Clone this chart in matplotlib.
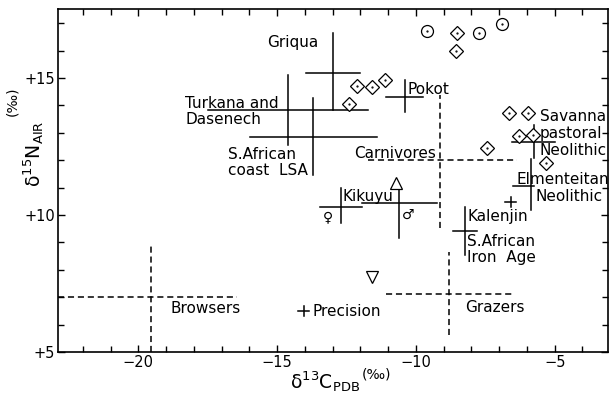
import matplotlib
matplotlib.use("Agg")
import matplotlib.pyplot as plt
from matplotlib.ticker import MultipleLocator, FixedLocator, FixedFormatter

# human groups: centre and range of d13C / d15N
human = ['Griqua', 'Turkana and Dasenech', 'S.African coast LSA', 'Pokot',
         'Kikuyu female', 'Kikuyu male', 'Savanna pastoral Neolithic',
         'Elmenteitan Neolithic', 'S.African Iron Age', 'Kalenjin', 'Precision']
human_c = [-13.0, -14.61, -13.71, -10.4, -12.7, -10.61, -5.75, -5.86, -8.23, -6.58, -14.04]
human_c_lo = [-13.96, -17.5, -15.98, -11.08, -13.46, -11.95, -6.54, -6.5, -8.66, -6.78, -14.24]
human_c_hi = [-12.02, -11.73, -11.41, -9.75, -11.95, -9.24, -4.99, -5.75, -7.8, -6.38, -13.84]
human_n = [15.2, 13.83, 12.85, 14.31, 10.29, 10.44, 12.66, 11.06, 9.42, 10.47, 6.5]
human_n_lo = [13.83, 12.55, 11.46, 13.76, 9.71, 9.16, 12.1, 10.18, 8.54, 10.29, 6.32]
human_n_hi = [16.64, 15.11, 14.27, 14.93, 10.99, 11.1, 13.28, 12.04, 10.29, 10.65, 6.68]

# fauna (dashed)
fauna = ['Carnivores', 'Browsers', 'Grazers']
fauna_c = [-9.14, -19.55, -8.81]
fauna_c_lo = [-11.73, -22.9, -11.08]
fauna_c_hi = [-6.36, -16.45, -6.54]
fauna_n = [12.0, 7.0, 7.12]
fauna_n_lo = [9.53, 5.0, 5.62]
fauna_n_hi = [14.38, 8.98, 8.65]

# individual samples
diamond_c = [-8.52, -8.56, -12.13, -11.59, -11.12, -12.41, -6.65, -5.96, -6.29, -5.78, -7.44, -5.32]
diamond_n = [16.64, 15.99, 14.71, 14.67, 14.93, 14.05, 13.72, 13.72, 12.88, 12.92, 12.45, 11.9]
circle_c = [-9.6, -7.73, -6.9]
circle_n = [16.72, 16.64, 16.97]
tri_up_c, tri_up_n = [-10.72], [11.17]
tri_down_c, tri_down_n = [-11.59], [7.74]

xticks = [-20, -15, -10, -5]
xticklabels = ['\u221220', '\u221215', '\u221210', '\u22125']
yticks = [5, 10, 15]
yticklabels = ['+5', '+10', '+15']

fig = plt.figure(figsize=(6.16, 3.95), dpi=100)
ax = fig.add_axes([0.094, 0.109, 0.893, 0.868])


def cross(c, lo_c, hi_c, n, lo_n, hi_n, dashed):
    kw = dict(color='black', lw=1.1)
    if dashed:
        kw.update(ls='--', dashes=(4, 2.5))
    for i in range(len(c)):
        ax.plot([lo_c[i], hi_c[i]], [n[i], n[i]], **kw)
        ax.plot([c[i], c[i]], [lo_n[i], hi_n[i]], **kw)


cross(human_c, human_c_lo, human_c_hi, human_n, human_n_lo, human_n_hi, False)
cross(fauna_c, fauna_c_lo, fauna_c_hi, fauna_n, fauna_n_lo, fauna_n_hi, True)

ax.plot(diamond_c, diamond_n, 'D', ms=7.6, mfc='white', mec='black', mew=0.9)
ax.plot(circle_c, circle_n, 'o', ms=8.6, mfc='white', mec='black', mew=0.9)
ax.plot(diamond_c + circle_c, diamond_n + circle_n, '.', ms=1.2, color='black')
ax.plot(tri_up_c, tri_up_n, '^', ms=8, mfc='white', mec='black', mew=0.9)
ax.plot(tri_down_c, tri_down_n, 'v', ms=8, mfc='white', mec='black', mew=0.9)

fs = 11
txt = dict(fontsize=fs, va='center', ha='left')
ax.text(-15.37, 16.31, 'Griqua', **txt)
ax.text(-18.32, 14.09, 'Turkana and', **txt)
ax.text(-18.32, 13.47, 'Dasenech', **txt)
ax.text(-16.77, 12.22, 'S.African', **txt)
ax.text(-16.77, 11.63, 'coast  LSA', **txt)
ax.text(-10.32, 14.6, 'Pokot', **txt)
ax.text(-12.23, 12.26, 'Carnivores', **txt)
ax.text(-5.53, 13.6, 'Savanna', **txt)
ax.text(-5.53, 12.99, 'pastoral', **txt)
ax.text(-5.53, 12.37, 'Neolithic', **txt)
ax.text(-6.36, 11.31, 'Elmenteitan', **txt)
ax.text(-5.69, 10.66, 'Neolithic', **txt)
ax.text(-8.16, 9.93, 'Kalenjin', **txt)
ax.text(-8.16, 9.02, 'S.African', **txt)
ax.text(-8.16, 8.45, 'Iron  Age', **txt)
ax.text(-12.63, 10.66, 'Kikuyu', **txt)
ax.text(-18.83, 6.6, 'Browsers', **txt)
ax.text(-13.71, 6.46, 'Precision', **txt)
ax.text(-8.23, 6.64, 'Grazers', **txt)
ax.text(-13.17, 9.93, '\u2640', fontsize=10, ha='center', va='center')
ax.text(-10.29, 10.0, '\u2642', fontsize=10, ha='center', va='center')

ax.set_xlim(-22.9, -3.08)
ax.set_ylim(5, 17.52)
ax.xaxis.set_major_locator(FixedLocator(xticks))
ax.xaxis.set_major_formatter(FixedFormatter(xticklabels))
ax.yaxis.set_major_locator(FixedLocator(yticks))
ax.yaxis.set_major_formatter(FixedFormatter(yticklabels))
ax.xaxis.set_minor_locator(MultipleLocator(1))
ax.yaxis.set_minor_locator(MultipleLocator(1))
ax.tick_params(which='both', direction='in', top=True, right=True, width=1,
               labelsize=10.5, pad=2)
ax.tick_params(which='major', length=5)
ax.tick_params(which='minor', length=4)
for s in ax.spines.values():
    s.set_linewidth(1.2)

# axis titles, with the raised (permil) written separately
fig.text(0.527, 0.035, '\u03b4$^{13}$C$_{\\mathrm{PDB}}$', fontsize=13.5,
         ha='center', va='center')
fig.text(0.612, 0.052, '(\u2030)', fontsize=10, ha='center', va='center')
fig.text(0.054, 0.61, '\u03b4$^{15}$N$_{\\mathrm{AIR}}$', fontsize=13.5,
         ha='center', va='center', rotation=90)
fig.text(0.02, 0.744, '(\u2030)', fontsize=10, ha='center', va='center',
         rotation=90)

fig.savefig('out.png', dpi=100)
